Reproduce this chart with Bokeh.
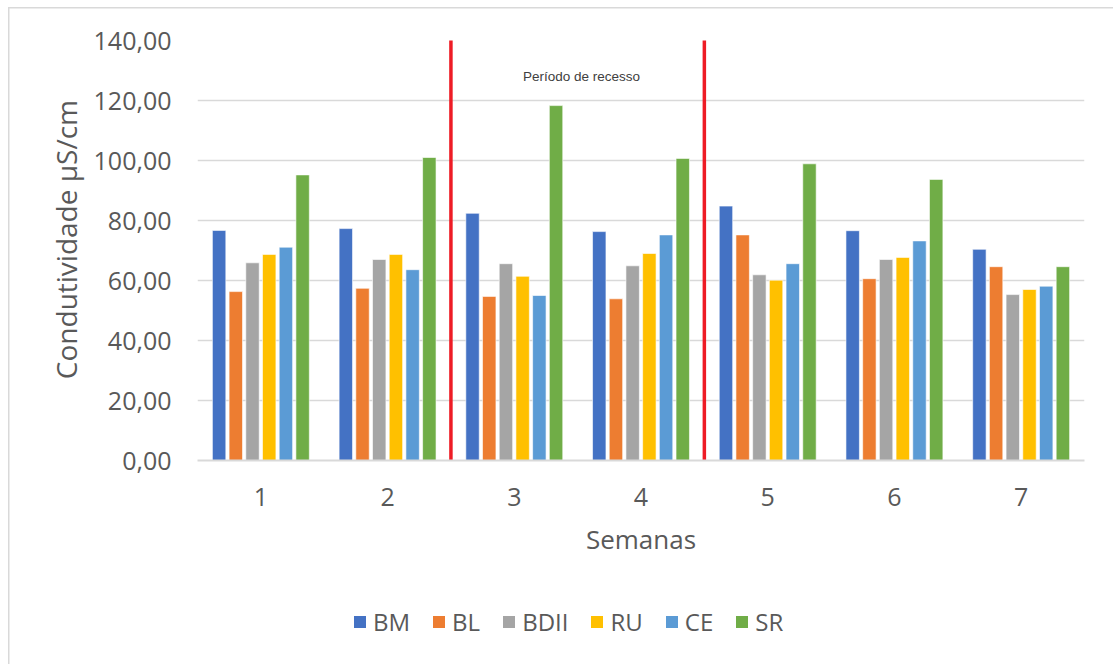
from bokeh.plotting import figure
from bokeh.layouts import column
from bokeh.models import (ColumnDataSource, FixedTicker, Legend, LegendItem, Label, Range1d)
from bokeh.transform import dodge
from bokeh.embed import file_html
from bokeh.resources import INLINE

# ---- data ----
weeks = [1, 2, 3, 4, 5, 6, 7]
series = ["BM", "BL", "BDII", "RU", "CE", "SR"]
bm = [76.7, 77.3, 82.4, 76.3, 84.8, 76.6, 70.4]
bl = [56.3, 57.4, 54.7, 53.9, 75.2, 60.6, 64.6]
bdii = [65.9, 67.0, 65.6, 64.9, 61.9, 67.0, 55.3]
ru = [68.7, 68.7, 61.4, 69.0, 60.1, 67.7, 57.0]
ce = [71.1, 63.6, 55.0, 75.2, 65.6, 73.2, 58.1]
sr = [95.2, 101.0, 118.3, 100.7, 98.9, 93.7, 64.6]
y_ticks = [0, 20, 40, 60, 80, 100, 120, 140]
y_tick_labels = ["0,00", "20,00", "40,00", "60,00", "80,00", "100,00", "120,00", "140,00"]
recess_bounds = [2.5, 4.5]
recess_label = "Período de recesso"
x_title = "Semanas"
y_title = "\u00a0\u00a0\u00a0Condutividade µS/cm"

colors = ["#4472C4", "#ED7D31", "#A5A5A5", "#FFC000", "#5B9BD5", "#70AD47"]
FONT = "Open Sans"
TXT = "#595959"

src = ColumnDataSource(dict(week=weeks, BM=bm, BL=bl, BDII=bdii, RU=ru, CE=ce, SR=sr))

p = figure(width=1113, height=580, x_range=Range1d(0.5, 7.5), y_range=Range1d(0, 140),
           output_backend="svg", toolbar_location=None)
p.min_border = 0
p.min_border_left = 197
p.min_border_right = 29
p.min_border_top = 40
p.min_border_bottom = 120
p.outline_line_color = None
p.background_fill_color = "white"
p.border_fill_color = None

step = 0.1318
bw = 0.106
for i, (name, col) in enumerate(zip(series, colors)):
    p.vbar(x=dodge("week", (i - 2.5) * step, range=p.x_range), top=name, width=bw,
           bottom=0, source=src, fill_color=col, line_color="white", line_width=1,
           line_alpha=0.6)

# recess lines
rs = ColumnDataSource(dict(x=recess_bounds, y0=[-0.7] * len(recess_bounds),
                           y1=[140.5] * len(recess_bounds)))
p.segment(x0="x", x1="x", y0="y0", y1="y1", source=rs, line_color="#EE1C25", line_width=3.5)

p.add_layout(Label(x=3.53, y=128, text=recess_label, text_align="center",
                   text_baseline="middle", text_font="Liberation Sans",
                   text_font_size="13.5px", text_color="#404040"))

# axes
p.yaxis.ticker = FixedTicker(ticks=y_ticks)
p.yaxis.major_label_overrides = {t: l for t, l in zip(y_ticks, y_tick_labels)}
p.xaxis.ticker = FixedTicker(ticks=weeks)
for ax in (p.xaxis[0], p.yaxis[0]):
    ax.major_tick_line_color = None
    ax.minor_tick_line_color = None
    ax.major_label_text_font = FONT
    ax.major_label_text_font_size = "25px"
    ax.major_label_text_color = TXT
    ax.axis_label_text_font = FONT
    ax.axis_label_text_font_style = "normal"
    ax.axis_label_text_color = TXT
p.xaxis.axis_label_text_font_size = "26px"
p.yaxis.axis_label_text_font_size = "28px"
p.yaxis.axis_line_color = None
p.xaxis.axis_line_color = "#D9D9D9"
p.xaxis.axis_line_width = 2
p.yaxis.major_label_standoff = 20
p.xaxis.major_label_standoff = 21
p.xaxis.axis_label = x_title
p.yaxis.axis_label = y_title
p.xaxis.axis_label_standoff = 12
p.yaxis.axis_label_standoff = 6

p.xgrid.grid_line_color = None
p.ygrid.grid_line_color = "#D9D9D9"
p.ygrid.grid_line_width = 1.5

# legend strip (its frame is aligned with the main frame by the column)
lg = figure(width=1113, height=84, x_range=Range1d(0, 10), y_range=Range1d(0, 10),
            output_backend="svg", toolbar_location=None)
lg.min_border = 0
lg.axis.visible = False
lg.grid.visible = False
lg.outline_line_color = None
lg.background_fill_color = None
lg.border_fill_color = None
offscreen = ColumnDataSource(dict(x=[-100], top=[-100]))
items = []
for name, col in zip(series, colors):
    r = lg.vbar(x="x", top="top", width=1, source=offscreen, fill_color=col,
                line_color=None)
    items.append(LegendItem(label=name, renderers=[r]))
legend = Legend(items=items, orientation="horizontal", location=(155, 26),
                glyph_width=15, glyph_height=15, label_standoff=6, spacing=21,
                padding=0, margin=0, border_line_color=None, background_fill_alpha=0,
                label_text_font=FONT, label_text_font_size="24px", label_text_color=TXT)
lg.add_layout(legend, "center")

layout = column(p, lg, spacing=0)
layout.styles = {
    "background-color": "white",
    "background-image": "linear-gradient(#D9D9D9, #D9D9D9), linear-gradient(#D9D9D9, #D9D9D9)",
    "background-size": "1.5px 660px, 1110px 1.5px",
    "background-position": "8px 7px, 8px 7px",
    "background-repeat": "no-repeat",
}

open("out.html", "w").write(file_html(layout, INLINE))
